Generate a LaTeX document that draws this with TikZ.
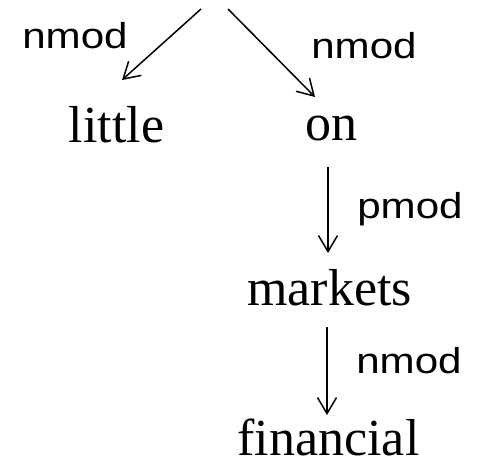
\documentclass[tikz,border=0pt]{standalone}
\usepackage{fontspec}
\usetikzlibrary{arrows.meta}
\newfontfamily\wordfont{Liberation Serif}
\newfontfamily\relfont[FakeStretch=1.17]{Liberation Sans}
\tikzset{
  word/.style={font=\wordfont\fontsize{52}{60}\selectfont, inner sep=0pt, anchor=base},
  rel/.style={font=\relfont\fontsize{36}{42}\selectfont, inner sep=0pt, anchor=base},
  dep/.style={line width=1.5pt, -{Straight Barb[length=16pt, width=19pt, line width=1.5pt]}}
}
\begin{document}
\begin{tikzpicture}[x=1pt, y=-1pt]
  \useasboundingbox (0,0) rectangle (479,464);

  % words of the tree
  \node[word] (little)    at (116.5,142) {little};
  \node[word] (on)        at (331,140)   {on};
  \node[word] (markets)   at (329.5,305) {markets};
  \node[word] (financial) at (328.5,455) {financial};

  % relation labels
  \node[rel] (r1) at (75,48)   {nmod};
  \node[rel] (r2) at (364,58)  {nmod};
  \node[rel] (r3) at (410,218) {pmod};
  \node[rel] (r4) at (409,373) {nmod};

  % connector end points
  \coordinate (headL)  at (201,9);
  \coordinate (headR)  at (228,9);
  \coordinate (toL)    at (122,80);
  \coordinate (toR)    at (315,97);
  \coordinate (fromOn) at (328,167);
  \coordinate (toMk)   at (328,253);
  \coordinate (fromMk) at (327,327);
  \coordinate (toFin)  at (327,415);

  % dependency arrows
  \draw[dep] (headL)  -- (toL);
  \draw[dep] (headR)  -- (toR);
  \draw[dep] (fromOn) -- (toMk);
  \draw[dep] (fromMk) -- (toFin);
\end{tikzpicture}
\end{document}
